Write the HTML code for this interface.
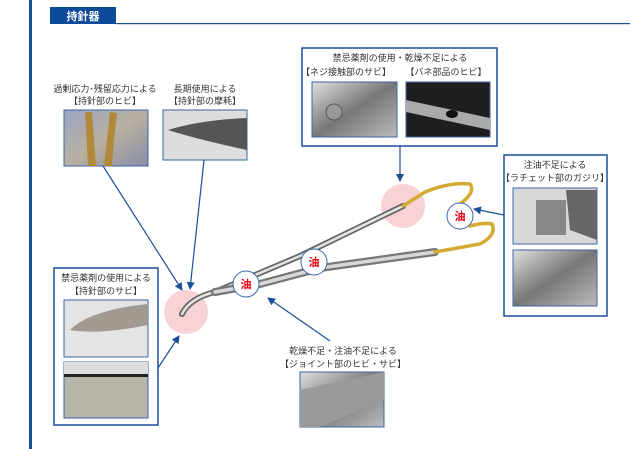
<!DOCTYPE html>
<html><head><meta charset="utf-8"><style>
body{margin:0;background:#fff;width:643px;height:449px;overflow:hidden}
svg{display:block}
text{font-family:"Liberation Sans","Noto Sans CJK JP",sans-serif;font-size:9px;fill:#333;text-anchor:middle}
</style></head><body>
<svg width="643" height="449" viewBox="0 0 643 449">
<defs>
<marker id="a" markerWidth="8" markerHeight="8" refX="7" refY="4" orient="auto" markerUnits="userSpaceOnUse"><path d="M0,0L8,4L0,8z" fill="#1a4f9a"/></marker>
<linearGradient id="p1" x1="0" y1="0" x2="1" y2="1"><stop offset="0" stop-color="#9aa6c4"/><stop offset=".5" stop-color="#b8b0a0"/><stop offset="1" stop-color="#8a8ea8"/></linearGradient>
<linearGradient id="p2" x1="0" y1="0" x2="1" y2="1"><stop offset="0" stop-color="#e0e0e0"/><stop offset=".5" stop-color="#777"/><stop offset="1" stop-color="#bbb"/></linearGradient>
</defs>
<rect x="29" y="0" width="3" height="449" fill="#1a4f9a"/>
<rect x="50" y="7" width="66" height="17" fill="#0d4a9a"/>
<text x="83" y="20" style="fill:#fff;font-size:11px;font-weight:bold">持針器</text>
<rect x="116" y="23" width="514" height="1.2" fill="#1a4f9a"/>

<text x="105" y="92">過剰応力･残留応力による</text>
<text x="105" y="104">【持針部のヒビ】</text>
<rect x="64" y="110" width="84" height="56" fill="url(#p1)" stroke="#3a66aa"/>
<path d="M85,112 L92,112 L96,166 L88,166Z M110,112 L117,113 L114,140 L112,166 L104,166Z" fill="#b08a3a"/>
<text x="205" y="92">長期使用による</text>
<text x="205" y="104">【持針部の摩耗】</text>
<rect x="163" y="110" width="84" height="50" fill="#ddd" stroke="#3a66aa"/>
<path d="M168,130 Q200,120 247,118 L247,150 Q200,140 168,130Z" fill="#555"/>

<rect x="302" y="48" width="195" height="98" fill="#fff" stroke="#1a4f9a" stroke-width="1.5"/>
<text x="400" y="61">禁忌薬剤の使用・乾燥不足による</text>
<text x="346" y="75">【ネジ接触部のサビ】</text>
<text x="446" y="75">【バネ部品のヒビ】</text>
<rect x="312" y="82" width="85" height="55" fill="url(#p2)" stroke="#3a66aa"/>
<circle cx="334" cy="112" r="8" fill="#999" stroke="#555"/>
<rect x="406" y="82" width="84" height="55" fill="#1e1e1e" stroke="#3a66aa"/>
<path d="M406,100 L490,118 L490,130 L406,112Z" fill="#aaa"/>
<ellipse cx="452" cy="114" rx="6" ry="4" fill="#111"/>

<rect x="504" y="155" width="103" height="161" fill="#fff" stroke="#1a4f9a" stroke-width="1.5"/>
<text x="555" y="168">注油不足による</text>
<text x="555" y="181">【ラチェット部のガジリ】</text>
<rect x="513" y="188" width="84" height="56" fill="#d8d8d8" stroke="#3a66aa"/>
<rect x="536" y="200" width="30" height="35" fill="#888"/><path d="M566,190 L597,190 L597,240 L570,230Z" fill="#666"/>
<rect x="513" y="250" width="84" height="56" fill="url(#p2)" stroke="#3a66aa"/>

<rect x="54" y="268" width="104" height="157" fill="#fff" stroke="#1a4f9a" stroke-width="1.5"/>
<text x="106" y="281">禁忌薬剤の使用による</text>
<text x="106" y="294">【持針部のサビ】</text>
<rect x="64" y="300" width="84" height="57" fill="#e4e4e4" stroke="#3a66aa"/>
<path d="M70,330 Q90,310 148,304 L148,325 Q100,335 70,330Z" fill="#a09a90"/>
<rect x="64" y="362" width="84" height="56" fill="#b8b4a8" stroke="#3a66aa"/>
<rect x="64" y="362" width="84" height="12" fill="#ddd"/><rect x="64" y="374" width="84" height="3" fill="#222"/>

<text x="343" y="354">乾燥不足・注油不足による</text>
<text x="343" y="367">【ジョイント部のヒビ・サビ】</text>
<rect x="300" y="372" width="84" height="55" fill="url(#p2)" stroke="#3a66aa"/>
<path d="M300,390 L384,372 L384,400 L320,427 L300,427Z" fill="#9a9a9a"/>

<circle cx="186" cy="312" r="22" fill="#f5c8cc" opacity=".8"/>
<circle cx="403" cy="206" r="22" fill="#f5c8cc" opacity=".8"/>

<g fill="none" stroke-linecap="round">
<path d="M182,314 Q190,298 215,292 L300,256 L403,206" stroke="#666" stroke-width="6"/>
<path d="M182,314 Q190,298 215,292 L300,256 L403,206" stroke="#e4e4e4" stroke-width="2.5"/>
<path d="M403,206 L425,192 Q450,182 470,184 Q476,192 460,204" stroke="#d4ab32" stroke-width="3.5"/>
<path d="M215,292 L260,284 L320,268 L435,252" stroke="#777" stroke-width="8"/>
<path d="M215,292 L260,284 L320,268 L435,252" stroke="#d8d8d8" stroke-width="3.5"/>
<path d="M435,252 L480,244 Q497,235 492,224 Q485,222 470,226" stroke="#d4ab32" stroke-width="3.5"/>
</g>

<g stroke="#1a4f9a" stroke-width="1.2" fill="none" marker-end="url(#a)">
<path d="M103,166 L182,290"/>
<path d="M204,160 L190,289"/>
<path d="M158,368 L179,336"/>
<path d="M400,146 L400,181"/>
<path d="M504,215 L474,209"/>
<path d="M330,341 L268,298"/>
</g>

<g fill="#fff" stroke="#3a66aa" stroke-width="1">
<circle cx="246" cy="284" r="13"/><circle cx="314" cy="262" r="13"/><circle cx="460" cy="216" r="13"/>
</g>
<text x="246" y="288" style="fill:#e60012;font-size:11px;font-weight:bold">油</text>
<text x="314" y="266" style="fill:#e60012;font-size:11px;font-weight:bold">油</text>
<text x="460" y="220" style="fill:#e60012;font-size:11px;font-weight:bold">油</text>
</svg>
</body></html>
